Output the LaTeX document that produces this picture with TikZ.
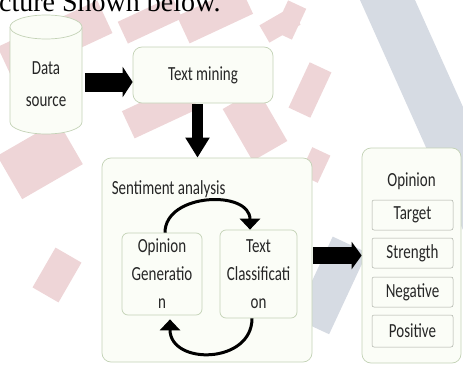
\documentclass[tikz,border=0pt]{standalone}
\usepackage{fontspec}
\setmainfont{Carlito}
\newfontfamily\bodyserif{Liberation Serif}
\usetikzlibrary{arrows.meta,calc}
\definecolor{frameline}{HTML}{C3D2B6}
\definecolor{framefill}{HTML}{FBFDF7}
\definecolor{cellline}{HTML}{A9ADA4}
\definecolor{inkdark}{HTML}{262626}
\definecolor{markpink}{HTML}{EED5D7}
\definecolor{markgrey}{HTML}{D6DBE3}
% narrow the label glyphs horizontally
\newcommand\sqz[1]{\scalebox{0.75}[1]{#1}}

\begin{document}
\begin{tikzpicture}[x=1pt,y=-1pt,
  frame/.style={draw=frameline, fill=framefill, line width=0.7pt, rounded corners=9pt, inner sep=0pt},
  cell/.style={draw=cellline, fill=framefill, line width=0.5pt, rounded corners=2pt,
               minimum width=81pt, minimum height=30pt, inner sep=0pt},
  lbl/.style={font=\fontsize{20}{28}\selectfont, text=inkdark, inner sep=0pt, align=center},
  wm/.style={fill=markpink},
  wmgrey/.style={fill=markgrey},
  looparrow/.style={draw=black, line width=3pt, -{Triangle[length=11pt,width=20pt]}}
]
\useasboundingbox (0,0) rectangle (463,364);

% ---- background pattern ----
\begin{scope}
\clip (0,0) rectangle (463,364);
\fill[wmgrey] (360,0) -- (415,0) -- (463,107) -- (463,230) -- cycle;
\fill[wmgrey, rotate around={-25:(330,285)}] (312,240) rectangle (350,330);
\fill[wm, rotate around={25:(55,40)}] (0,22) rectangle (110,58);
\fill[wm, rotate around={25:(150,20)}] (120,8) rectangle (180,32);
\fill[wm, rotate around={25:(215,15)}] (180,0) rectangle (250,30);
\fill[wm, rotate around={30:(280,25)}] (262,15) rectangle (298,35);
\fill[wm, rotate around={25:(160,110)}] (125,95) rectangle (195,125);
\fill[wm, rotate around={-60:(255,125)}] (225,105) rectangle (285,145);
\fill[wm, rotate around={30:(40,160)}] (5,135) rectangle (75,185);
\fill[wm, rotate around={-30:(57,275)}] (42,252) rectangle (72,298);
\fill[wm, rotate around={-25:(310,90)}] (298,65) rectangle (322,115);
\fill[wm, rotate around={-25:(290,20)}] (280,3) rectangle (300,37);
\fill[wm, rotate around={-25:(315,165)}] (305,150) rectangle (325,180);
\end{scope}

% ---- opening words of the sentence above ----
\node[anchor=base west, font=\bodyserif\fontsize{28}{30}\selectfont, inner sep=0pt] (caption) at (-1,12) {cture Shown below.};

% ---- data source cylinder ----
\draw[frameline, fill=framefill, line width=0.7pt]
  (10,27) -- (10,122) arc[start angle=180, end angle=360, x radius=36pt, y radius=12pt]
  -- (82,27);
\draw[frameline, fill=framefill, line width=0.7pt] (46,27) ellipse[x radius=36pt, y radius=12pt];
\node[lbl, font=\fontsize{20}{32}\selectfont, minimum width=72pt, minimum height=100pt] (src) at (46,84)
  {\sqz{Data}\\\sqz{source}};

% ---- text mining ----
\node[frame, lbl, minimum width=140pt, minimum height=56pt] (mine) at (203,75) {\sqz{Text mining}};

% ---- sentiment analysis ----
\node[frame, minimum width=210pt, minimum height=204pt] (sent) at (207,260) {};
\node[lbl, anchor=west] (sentlbl) at ([xshift=10pt,yshift=-32pt]sent.north west) {\sqz{Sentiment analysis}};
\node[frame, lbl, rounded corners=6pt, minimum width=80pt, minimum height=82pt] (gen) at (162,274)
  {\sqz{Opinion}\\\sqz{Generatio}\\\sqz{n}};
\node[frame, lbl, rounded corners=6pt, minimum width=77pt, minimum height=88pt] (cls) at (258.5,274)
  {\sqz{Text}\\\sqz{Classificati}\\\sqz{on}};

% ---- opinion ----
\node[frame, minimum width=99pt, minimum height=215pt] (opn) at (411.5,255.5) {};
\node[lbl] (opnlbl) at ([yshift=-34pt]opn.north) {\sqz{Opinion}};
\node[cell, lbl] (target) at (412.5,215) {\sqz{Target}};
\node[cell, lbl] (strength) at (412.5,253) {\sqz{Strength}};
\node[cell, lbl] (negative) at (412.5,292) {\sqz{Negative}};
\node[cell, lbl, minimum height=32pt] (positive) at (412.5,331) {\sqz{Positive}};

% ---- block arrows ----
\draw[line width=19pt, -{Triangle[length=10pt,width=30pt]}, shorten <=3pt]
  ([yshift=2pt]src.east) -- ([yshift=2pt]src.east -| mine.west);
\draw[line width=11pt, -{Triangle[length=20pt,width=23pt]}, shorten <=1pt]
  ([xshift=-5.5pt]mine.south) -- ([xshift=-5.5pt]mine.south |- sent.north);
\draw[line width=17pt, -{Triangle[length=10pt,width=27pt]}, shorten <=1pt]
  (sent.east |- opn.west) -- (opn.west);

% ---- loop between the two inner steps ----
\draw[looparrow] ([xshift=3pt]gen.north) .. controls +(0,-40) and +(0,-40) .. ([xshift=-8.5pt]cls.north);
\draw[looparrow] ([xshift=-6.5pt]cls.south) .. controls +(0,46) and +(0,46) .. ([xshift=8pt,yshift=-4pt]gen.south);
\end{tikzpicture}
\end{document}
